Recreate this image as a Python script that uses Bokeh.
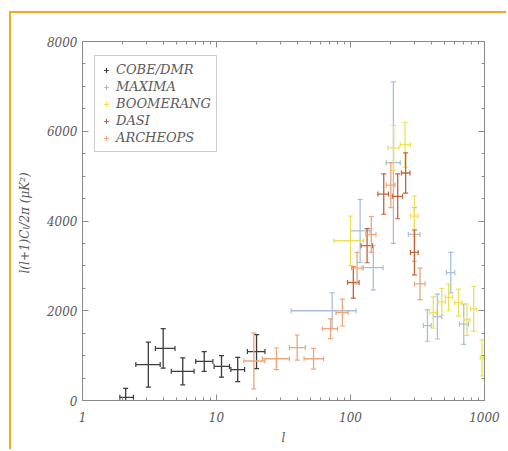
from bokeh.plotting import figure
from bokeh.models import (FixedTicker, LinearAxis, LogAxis, Range1d, Legend, LegendItem,
                          ColumnDataSource, NumeralTickFormatter)
from bokeh.embed import file_html
from bokeh.resources import INLINE
import math

# ---------------- data ----------------
cobe_l   = [2.1, 3.1, 4.0, 5.6, 8.1, 10.9, 14.4, 19.9]
cobe_lo  = [1.9, 2.5, 3.5, 4.6, 7.0, 9.6, 12.8, 17.0]
cobe_hi  = [2.4, 3.8, 4.9, 6.8, 9.4, 12.5, 16.2, 23.0]
cobe_v   = [70, 800, 1160, 650, 870, 760, 690, 1090]
cobe_e   = [200, 500, 440, 300, 220, 240, 270, 380]

maxima_l  = [73, 118, 148, 209, 300, 375, 445, 560, 700]
maxima_lo = [36, 100, 125, 185, 270, 350, 415, 520, 650]
maxima_hi = [110, 140, 175, 235, 330, 400, 480, 600, 760]
maxima_v  = [2000, 3780, 2960, 5300, 3700, 1670, 1870, 2850, 1700]
maxima_e  = [400, 700, 500, 1800, 600, 350, 500, 450, 450]

boom_l  = [100, 210, 255, 300, 415, 480, 540, 640, 740, 830, 960]
boom_lo = [75, 190, 235, 280, 390, 450, 510, 600, 700, 790, 930]
boom_hi = [125, 230, 280, 320, 440, 510, 575, 680, 780, 870, 990]
boom_v  = [3560, 5630, 5700, 4110, 1960, 2200, 2300, 2180, 1800, 2040, 950]
boom_e  = [550, 500, 500, 450, 350, 300, 300, 300, 350, 500, 400]

dasi_l  = [105, 133, 177, 225, 258, 300]
dasi_lo = [95, 120, 160, 205, 240, 280]
dasi_hi = [116, 146, 192, 245, 278, 320]
dasi_v  = [2630, 3450, 4600, 4550, 5070, 3300]
dasi_e  = [350, 380, 450, 500, 450, 500]

arch_l  = [19, 28, 40, 53, 71, 87, 112, 143, 200, 330]
arch_lo = [16, 22, 35, 45, 62, 78, 102, 130, 185, 300]
arch_hi = [23, 35, 46, 63, 80, 96, 122, 155, 215, 360]
arch_v  = [880, 930, 1180, 930, 1600, 1960, 2950, 3700, 4800, 2600]
arch_e  = [620, 240, 280, 230, 220, 300, 350, 400, 500, 350]

names = ["COBE/DMR", "MAXIMA", "BOOMERANG", "DASI", "ARCHEOPS"]
x_ticks = [1, 10, 100, 1000]
y_ticks = [0, 2000, 4000, 6000, 8000]

series = [
    (cobe_l, cobe_lo, cobe_hi, cobe_v, cobe_e, "#3c3c3c"),
    (maxima_l, maxima_lo, maxima_hi, maxima_v, maxima_e, "#a7bfdc"),
    (boom_l, boom_lo, boom_hi, boom_v, boom_e, "#ece25a"),
    (dasi_l, dasi_lo, dasi_hi, dasi_v, dasi_e, "#c0643e"),
    (arch_l, arch_lo, arch_hi, arch_v, arch_e, "#eea57a"),
]

FONT = "DejaVu Serif"
TXT = "#5a5a5a"

# figure placed 9px right / 11px down, with orange top and left page rules
p = figure(width=497, height=438, x_axis_type="log", output_backend="svg",
           toolbar_location=None, x_range=Range1d(1, 1000), y_range=Range1d(0, 8000),
           min_border_left=71, min_border_right=24, min_border_top=28, min_border_bottom=51,
           background_fill_color="white", border_fill_color="white")
p.margin = (11, 0, 0, 9)
p.styles = {"border-top": "2px solid #f5a623", "border-left": "2px solid #f5a623"}
p.grid.visible = False
p.outline_line_color = "#8a8a8a"

minor_x = [m * d for d in (1, 10, 100) for m in range(2, 10)]
minor_y = [v for v in range(0, 8001, 500) if v % 2000]

def style_axis(ax, labels=True):
    ax.axis_line_color = "#8a8a8a"
    ax.major_tick_line_color = "#8a8a8a"
    ax.minor_tick_line_color = "#8a8a8a"
    ax.major_tick_in = 6
    ax.major_tick_out = 0
    ax.minor_tick_in = 3
    ax.minor_tick_out = 0
    ax.major_label_text_font = FONT
    ax.major_label_text_font_style = "italic"
    ax.major_label_text_color = TXT
    ax.major_label_text_font_size = "12px"
    if not labels:
        ax.major_label_text_color = None
        ax.major_label_standoff = 0

p.xaxis.ticker = FixedTicker(ticks=x_ticks, minor_ticks=minor_x)
p.xaxis.formatter = NumeralTickFormatter(format="0")
p.yaxis.ticker = FixedTicker(ticks=y_ticks, minor_ticks=minor_y)
style_axis(p.xaxis[0]); style_axis(p.yaxis[0])
p.xaxis.axis_label = "l"
p.yaxis.axis_label = "l(l+1)Cₗ/2π  (μK²)"
for ax in (p.xaxis[0], p.yaxis[0]):
    ax.axis_label_text_font = FONT
    ax.axis_label_text_font_style = "italic"
    ax.axis_label_text_color = TXT
    ax.axis_label_text_font_size = "12px"
p.xaxis.axis_label_standoff = 6
p.yaxis.axis_label_standoff = 12
p.xaxis.major_label_standoff = 11
p.yaxis.major_label_standoff = 5

top = LogAxis(ticker=FixedTicker(ticks=x_ticks, minor_ticks=minor_x))
style_axis(top, labels=False)
p.add_layout(top, "above")
right = LinearAxis(ticker=FixedTicker(ticks=y_ticks, minor_ticks=minor_y))
style_axis(right, labels=False)
p.add_layout(right, "right")

items = []
for (l, lo, hi, v, e, col), name in zip(series, names):
    src = ColumnDataSource(dict(l=l, lo=lo, hi=hi, v=v,
                                top=[a + b for a, b in zip(v, e)],
                                bot=[max(a - b, 0) for a, b in zip(v, e)]))
    p.segment(x0="l", x1="l", y0="bot", y1="top", source=src, line_color=col, line_width=1.3)
    p.segment(x0="lo", x1="hi", y0="v", y1="v", source=src, line_color=col, line_width=1.3)
    p.scatter(x="l", y="top", source=src, marker="dash", size=5, line_color=col, line_width=1.2)
    p.scatter(x="l", y="bot", source=src, marker="dash", size=5, line_color=col, line_width=1.2)
    p.scatter(x="lo", y="v", source=src, marker="dash", angle=math.pi / 2, size=5, line_color=col, line_width=1.2)
    p.scatter(x="hi", y="v", source=src, marker="dash", angle=math.pi / 2, size=5, line_color=col, line_width=1.2)
    r = p.scatter(x=[l[0]], y=[-1000], marker="cross", size=9, line_color=col, line_width=1.2)
    items.append(LegendItem(label=name, renderers=[r]))

leg = Legend(items=items, location=(12, 248))
leg.label_text_font = FONT
leg.label_text_font_style = "italic"
leg.label_text_font_size = "13px"
leg.label_text_color = TXT
leg.label_height = 17
leg.glyph_height = 14
leg.glyph_width = 12
leg.spacing = 0
leg.padding = 5
leg.label_standoff = 4
leg.border_line_color = "#999999"
leg.border_line_width = 1
leg.background_fill_alpha = 0
p.add_layout(leg)

open("out.html", "w").write(file_html(p, INLINE))
